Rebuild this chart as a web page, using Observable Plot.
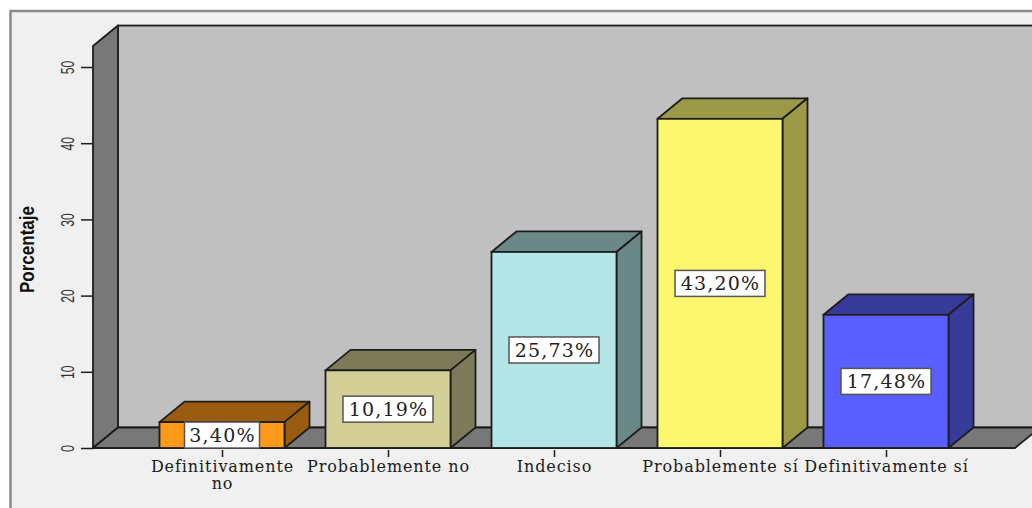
<!DOCTYPE html>
<html><head><meta charset="utf-8">
<script src="https://cdn.jsdelivr.net/npm/d3@7"></script>
<script src="https://cdn.jsdelivr.net/npm/@observablehq/plot@0.6"></script>
<style>
html,body{margin:0;padding:0;background:#fff;overflow:hidden}
svg{display:block}
g[font-size="16"] text{letter-spacing:0.9px}
g[font-size="19"] text{letter-spacing:1.2px}
</style></head><body><div id="chart"></div>
<script>
const categories = ["Definitivamente\nno","Probablemente no","Indeciso","Probablemente sí","Definitivamente sí"];
const values = [3.40,10.19,25.73,43.20,17.48];
const labels = ["3,40%","10,19%","25,73%","43,20%","17,48%"];
const frontColors = ["#fd9a19","#d3cf97","#b5e6e7","#fcf76f","#5a5fff"];
const sideColors = ["#985b10","#7d7a59","#6b8889","#9c9947","#363a99"];
const yTicks = [0,10,20,30,40,50];

const W = 1032, H = 508;
const pxX = 1/166, pxY = 10/76.2;
const x0 = 222;
const half = 62.5*pxX, dX = 25*pxX, dY = 20.5*pxY;
const yMax = 52.75;
const idx = categories.map((_,i)=>i);

const topFace = i => { const v=values[i], l=i-half, r=i+half; return [
  {x:l,y1:v,y2:v},{x:l+dX,y1:v,y2:v+dY},{x:r,y1:v,y2:v+dY},{x:r+dX,y1:v+dY,y2:v+dY}]; };
const sideFace = i => { const v=values[i], r=i+half; return [
  {x:r,y1:0,y2:v},{x:r+dX,y1:dY,y2:v+dY}]; };

const xLeft = -(x0-93)*pxX;
const xRight = xLeft + (1015-93)*pxX;
const floorFace = [
  {x:xLeft,y1:0,y2:0},{x:xLeft+dX,y1:0,y2:dY},{x:xRight,y1:0,y2:dY},{x:xRight+dX,y1:dY,y2:dY}];
const leftWall = [{x:xLeft,y1:0,y2:yMax},{x:xLeft+dX,y1:dY,y2:yMax+dY}];
const backWall = [{x1:xLeft+dX,x2:xRight+dX,y1:dY,y2:yMax+dY}];

const serif = "'DejaVu Serif','Liberation Serif',serif";
const sans = "'Liberation Sans',Arial,sans-serif";
const dark = "#1d1d1d";
const boxH = 26*pxY;
const sw = 1.8;

const plot = Plot.plot({
  width:W, height:H, margin:0, marginBottom:60,
  style:{background:"transparent",overflow:"hidden"},
  x:{domain:[-x0*pxX,(W-x0)*pxX],range:[0,W]},
  y:{domain:[0,448*pxY],range:[448,0]},
  marks:[
    Plot.rect([{}],{x1:-(x0-10.5)*pxX,x2:(W+10-x0)*pxX,y1:-70*pxY,y2:(448-11)*pxY,fill:"#f0f0f0",stroke:"#8a8a8a",strokeWidth:2.5}),
    Plot.rect(backWall,{x1:"x1",x2:"x2",y1:"y1",y2:"y2",fill:"#c0c0c0",stroke:dark,strokeWidth:sw}),
    Plot.areaY(leftWall,{x:"x",y1:"y1",y2:"y2",fill:"#787878",stroke:dark,strokeWidth:sw}),
    Plot.areaY(floorFace,{x:"x",y1:"y1",y2:"y2",fill:"#787878",stroke:dark,strokeWidth:sw}),
    Plot.ruleY(yTicks,{x1:xLeft-12*pxX,x2:xLeft,stroke:dark,strokeWidth:1.5}),
    Plot.text(yTicks,{x:xLeft-25.5*pxX,y:d=>d,text:d=>String(d),rotate:-90,fontFamily:sans,fontSize:18,fill:"#333"}),
    Plot.text(["Porcentaje"],{x:xLeft-66.5*pxX,y:(448-249)*pxY,rotate:-90,fontFamily:sans,fontWeight:"bold",fontSize:21,fill:"#111"}),
    ...idx.flatMap(i=>[
      Plot.areaY(topFace(i),{x:"x",y1:"y1",y2:"y2",fill:sideColors[i],stroke:dark,strokeWidth:sw}),
      Plot.areaY(sideFace(i),{x:"x",y1:"y1",y2:"y2",fill:sideColors[i],stroke:dark,strokeWidth:sw}),
    ]),
    Plot.rect(idx,{x1:i=>i-half,x2:i=>i+half,y1:0,y2:i=>values[i],fill:i=>frontColors[i],stroke:dark,strokeWidth:sw}),
    Plot.ruleX(idx,{x:i=>i,y1:-2*pxY,y2:-9*pxY,stroke:dark,strokeWidth:1.5}),
    Plot.text(idx,{x:i=>i,y:-11.5*pxY,text:i=>categories[i],lineHeight:1.06,textAnchor:"middle",lineAnchor:"top",fontFamily:serif,fontSize:16,fill:"#1a1a1a"}),
    Plot.rect(idx,{x1:i=>i-labels[i].length*7.5*pxX,x2:i=>i+labels[i].length*7.5*pxX,y1:i=>values[i]/2-boxH/2,y2:i=>values[i]/2+boxH/2,fill:"#fff",stroke:"#555",strokeWidth:1.5}),
    Plot.text(idx,{x:i=>i,y:i=>values[i]/2,text:i=>labels[i],fontFamily:serif,fontSize:19,fill:"#222"})
  ]
});
plot.querySelectorAll('g[font-family*="Liberation Sans"] text').forEach(t=>{
  const bold = t.parentNode.getAttribute("font-weight")==="bold";
  t.setAttribute("textLength", bold?87:(t.textContent.length===1?7:13.5));
  t.setAttribute("lengthAdjust","spacingAndGlyphs");
});
document.getElementById("chart").appendChild(plot);
</script></body></html>
